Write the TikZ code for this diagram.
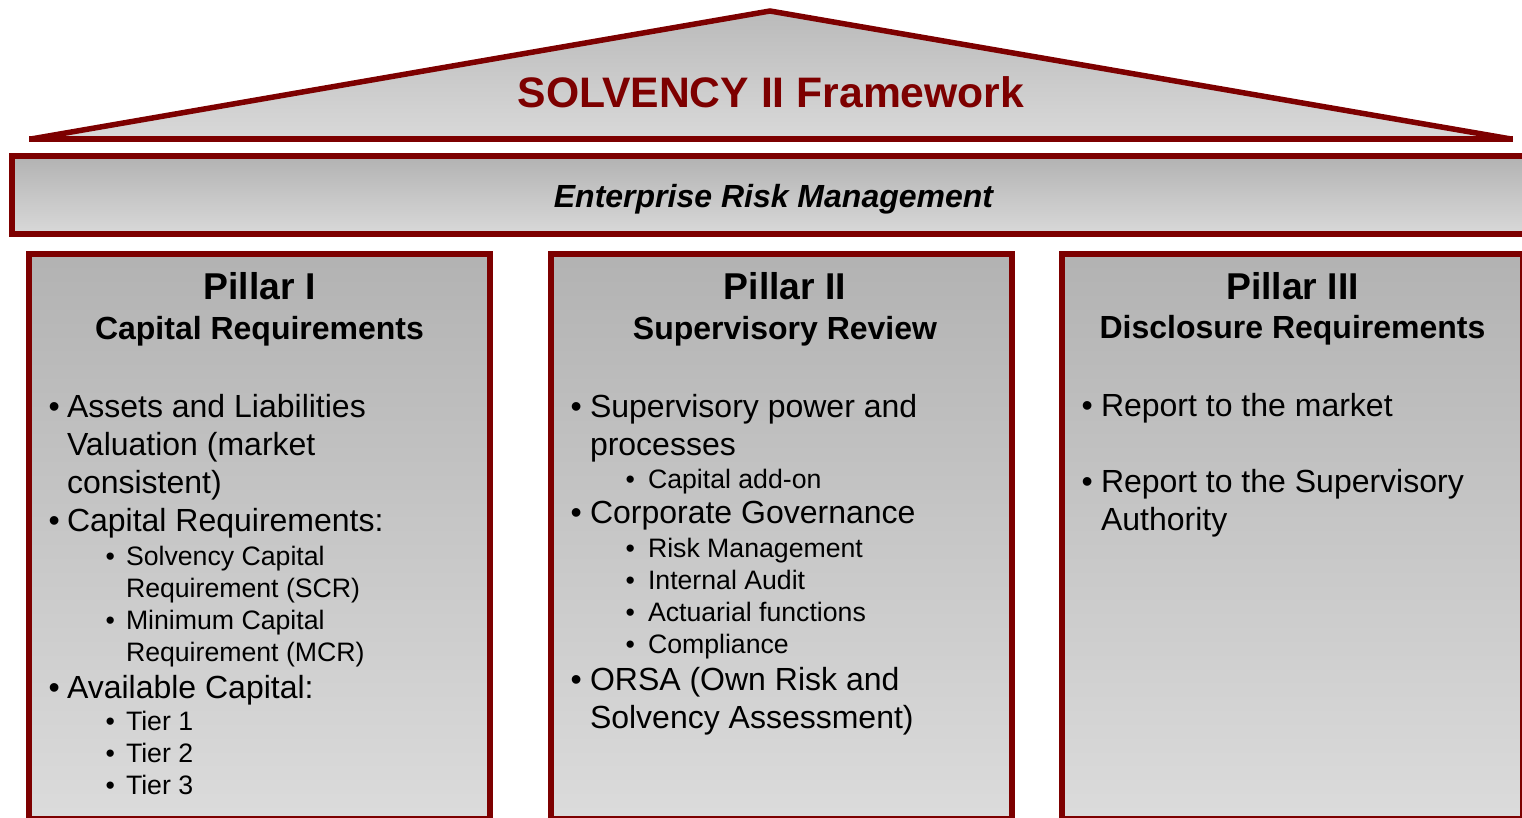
\documentclass[tikz,border=0pt]{standalone}
\usepackage{fontspec}
\setmainfont{Liberation Sans}
\definecolor{solvred}{RGB}{125,0,0}
\begin{document}
\begin{tikzpicture}[x=1pt,y=-1pt,
  txt/.style={anchor=base west,inner sep=0pt,outer sep=0pt},
  lvlone/.style={txt,font=\fontsize{32}{38}\selectfont},
  lvltwo/.style={txt,font=\fontsize{26.67}{32}\selectfont},
  head/.style={anchor=base,inner sep=0pt,font=\bfseries\fontsize{37.33}{44}\selectfont},
  subhead/.style={anchor=base,inner sep=0pt,font=\bfseries\fontsize{32}{38}\selectfont},
  pillar/.style={draw=solvred,line width=6pt,top color=black!30,bottom color=black!14},
  redline/.style={draw=solvred,line width=6pt},
]
\useasboundingbox (0,0) rectangle (1522,817);

% roof
\fill[top color=black!27,bottom color=black!15] (29,139) -- (770,11) -- (1513,139) -- cycle;
\draw[redline,line width=5.5pt,line join=miter] (31,139) -- (770,11) -- (1511,139);
\draw[redline] (29,139) -- (1513,139);
\node[anchor=base,inner sep=0pt,text=solvred,font=\bfseries\fontsize{42.67}{50}\selectfont]
  (title) at (771,107) {SOLVENCY II Framework};

% enterprise risk management beam
\draw[pillar,bottom color=black!15] (12,156) rectangle (1530,234);
\node[anchor=base,inner sep=0pt,font=\bfseries\itshape\fontsize{32}{38}\selectfont]
  (erm) at (773.5,207) {Enterprise Risk Management};

% pillars
\draw[pillar] (29,254) rectangle (490,818.5);
\draw[pillar] (551,254) rectangle (1012,818.5);
\draw[pillar] (1062,254) rectangle (1523,818.5);

% Pillar I
\node[head] (h1) at (259.5,299) {Pillar I};
\node[subhead] (s1) at (259.5,339) {Capital Requirements};
\node[lvlone] (b1a) at (48.5,417) {•};
\node[lvlone] (t1a) at (67,417) {Assets and Liabilities};
\node[lvlone] (t1b) at (67,455) {Valuation (market};
\node[lvlone] (t1c) at (67,493) {consistent)};
\node[lvlone] (b1d) at (48.5,531) {•};
\node[lvlone] (t1d) at (67,531) {Capital Requirements:};
\node[lvltwo] (b1e) at (105.5,565) {•};
\node[lvltwo] (t1e) at (126,565) {Solvency Capital};
\node[lvltwo] (t1f) at (126,597) {Requirement (SCR)};
\node[lvltwo] (b1g) at (105.5,629) {•};
\node[lvltwo] (t1g) at (126,629) {Minimum Capital};
\node[lvltwo] (t1h) at (126,661) {Requirement (MCR)};
\node[lvlone] (b1i) at (48.5,698) {•};
\node[lvlone] (t1i) at (67,698) {Available Capital:};
\node[lvltwo] (b1j) at (105.5,730) {•};
\node[lvltwo] (t1j) at (126,730) {Tier 1};
\node[lvltwo] (b1k) at (105.5,762) {•};
\node[lvltwo] (t1k) at (126,762) {Tier 2};
\node[lvltwo] (b1l) at (105.5,794) {•};
\node[lvltwo] (t1l) at (126,794) {Tier 3};

% Pillar II
\node[head] (h2) at (785,299) {Pillar II};
\node[subhead] (s2) at (785,339) {Supervisory Review};
\node[lvlone] (b2a) at (570.5,417) {•};
\node[lvlone] (t2a) at (590,417) {Supervisory power and};
\node[lvlone] (t2b) at (590,455) {processes};
\node[lvltwo] (b2c) at (625.5,488) {•};
\node[lvltwo] (t2c) at (648,488) {Capital add-on};
\node[lvlone] (b2d) at (570.5,523) {•};
\node[lvlone] (t2d) at (590,523) {Corporate Governance};
\node[lvltwo] (b2e) at (625.5,557) {•};
\node[lvltwo] (t2e) at (648,557) {Risk Management};
\node[lvltwo] (b2f) at (625.5,589) {•};
\node[lvltwo] (t2f) at (648,589) {Internal Audit};
\node[lvltwo] (b2g) at (625.5,621) {•};
\node[lvltwo] (t2g) at (648,621) {Actuarial functions};
\node[lvltwo] (b2h) at (625.5,653) {•};
\node[lvltwo] (t2h) at (648,653) {Compliance};
\node[lvlone] (b2i) at (570.5,690) {•};
\node[lvlone] (t2i) at (590,690) {ORSA (Own Risk and};
\node[lvlone] (t2j) at (590,728) {Solvency Assessment)};

% Pillar III
\node[head] (h3) at (1292.5,299) {Pillar III};
\node[subhead] (s3) at (1292.5,338) {Disclosure Requirements};
\node[lvlone] (b3a) at (1081.5,416) {•};
\node[lvlone] (t3a) at (1101,416) {Report to the market};
\node[lvlone] (b3b) at (1081.5,492) {•};
\node[lvlone] (t3b) at (1101,492) {Report to the Supervisory};
\node[lvlone] (t3c) at (1101,530) {Authority};
\end{tikzpicture}
\end{document}
